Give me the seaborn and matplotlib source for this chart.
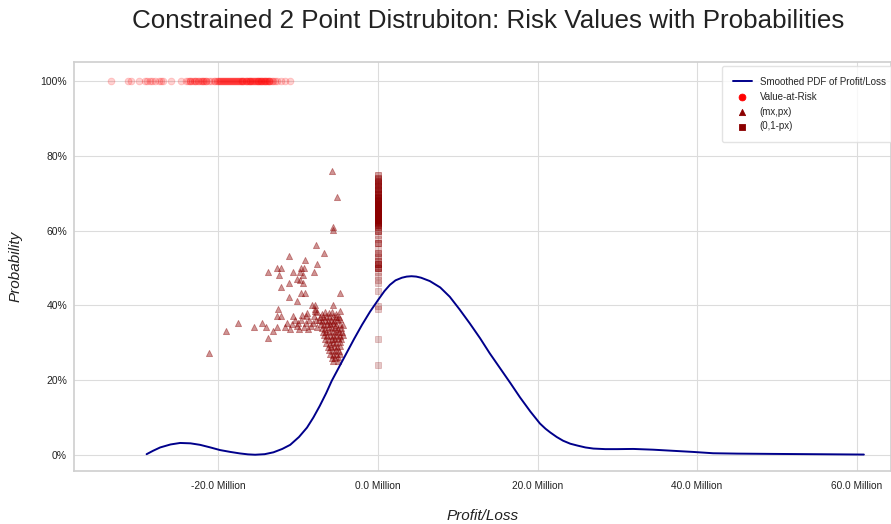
import numpy as np
import pandas as pd
import seaborn as sns
import matplotlib
matplotlib.use("Agg")
import matplotlib.pyplot as plt
from matplotlib.ticker import PercentFormatter, FuncFormatter, MultipleLocator

# ---------------- data (Profit/Loss in millions) ----------------
pdf_x = [-29.0, -28.2, -27.3, -26.0, -24.8, -23.5, -22.3, -21.0, -19.8, -18.5,
         -17.3, -16.3, -15.4, -14.2, -13.1, -12.0, -11.0, -9.9, -8.9, -8.1,
         -7.3, -6.5, -5.8, -5.0, -4.0, -3.0, -2.0, -1.0, 0.0, 0.8,
         1.5, 2.2, 3.0, 3.6, 4.2, 4.8, 5.4, 6.5, 7.8, 9.0, 10.2, 11.5,
         12.8, 14.0, 15.3, 16.6, 17.8, 19.1, 20.3, 21.0, 21.6, 22.4,
         23.2, 24.1, 25.0, 26.0, 27.0, 28.5, 30.0, 32.0, 34.5, 37.0,
         39.5, 42.0, 45.0, 49.6, 55.8, 60.9]
pdf_y = [0.002, 0.011, 0.020, 0.028, 0.032, 0.031, 0.027, 0.020, 0.013, 0.008,
         0.004, 0.0015, 0.0005, 0.002, 0.007, 0.016, 0.027, 0.048, 0.073, 0.100,
         0.131, 0.165, 0.198, 0.230, 0.270, 0.310, 0.348, 0.383, 0.414, 0.438,
         0.455, 0.467, 0.474, 0.477, 0.478, 0.477, 0.474, 0.465, 0.448, 0.423, 0.390, 0.352,
         0.312, 0.272, 0.232, 0.192, 0.154, 0.116, 0.084, 0.070, 0.060, 0.048,
         0.038, 0.030, 0.025, 0.020, 0.017, 0.0155, 0.0155, 0.016, 0.014, 0.011,
         0.008, 0.0045, 0.0035, 0.0027, 0.0018, 0.001]

var_x = [-33.4, -31.3, -31.0, -29.9, -29.2, -28.9, -28.6, -28.3, -28.0, -27.5,
         -27.2, -27.0, -26.0, -24.7, -24.0, -23.8, -23.6, -23.5, -23.3, -23.1,
         -22.9, -22.8, -22.6, -22.4, -22.2, -22.1, -21.9,
         -21.8, -21.6, -21.5, -21.2, -20.9, -20.6, -20.4, -20.2, -20.0, -19.9, -19.8,
         -19.7, -19.5, -19.4, -19.3, -19.2, -19.0, -18.9, -18.8, -18.7, -18.5,
         -18.4, -18.3, -18.2, -18.0, -17.9, -17.8, -17.7, -17.6, -17.4, -17.3,
         -17.2, -17.1, -17.0, -16.9, -16.8, -16.6, -16.5, -16.4, -16.3, -16.2,
         -16.1, -16.0, -15.9, -15.8, -15.7, -15.5, -15.4, -15.3, -15.2, -15.1,
         -15.0, -14.9, -14.8, -14.7, -14.6, -14.5, -14.4, -14.3, -14.2, -14.1,
         -14.0, -13.9, -13.8, -13.7, -13.6, -13.5, -13.3, -13.1, -12.9, -12.7,
         -12.1, -11.7, -11.0]
var_p = [1.0] * len(var_x)

mx = [-5.8, -5.1, -5.6, -5.6, -7.8, -6.8, -11.2, -9.1, -7.6, -12.6,
      -12.2, -9.6, -9.3, -13.8, -10.6, -8.0, -9.8, -12.4, -9.4, -10.2,
      -9.8, -11.2, -9.4, -12.2, -9.6, -9.1, -4.7, -11.2, -10.1, -8.3,
      -7.9, -5.6, -12.5, -7.9, -4.8,
      -21.2, -19.1, -17.6, -15.5, -14.5, -14.0, -13.8, -13.1, -12.7, -12.6,
      -12.1, -11.4, -10.7, -10.4, -11.6,
      -10.0, -9.6, -9.3, -9.0, -9.0, -8.6, -8.0, -8.2, -7.8, -7.7,
      -7.9, -7.6, -10.2, -9.9, -8.8, -8.4, -10.8, -11.0, -8.9, -9.5,
      -6.6, -6.2, -5.8, -7.0, -5.3,
      -7.3, -6.9, -6.5, -6.1, -5.7, -5.3, -4.9,
      -7.4, -7.0, -6.7, -6.3, -5.9, -5.5, -5.1, -4.7,
      -7.2, -6.8, -6.4, -6.0, -5.6, -5.2, -4.8, -4.4,
      -7.0, -6.6, -6.2, -5.8, -5.4, -5.0, -4.6,
      -6.9, -6.5, -6.1, -5.7, -5.3, -4.9, -4.5,
      -6.8, -6.4, -6.0, -5.6, -5.2, -4.8, -4.4,
      -6.7, -6.2, -5.8, -5.4, -5.0, -4.6,
      -6.5, -6.0, -5.6, -5.2, -4.8,
      -6.3, -5.9, -5.5, -5.1, -4.7,
      -6.1, -5.7, -5.3, -4.9,
      -6.0, -5.6, -5.2, -4.8,
      -5.8, -5.4, -5.0,
      -5.6, -5.0]
px = [0.760, 0.691, 0.610, 0.602, 0.561, 0.541, 0.532, 0.521, 0.511, 0.501,
      0.501, 0.501, 0.501, 0.490, 0.490, 0.490, 0.490, 0.481, 0.481, 0.471,
      0.468, 0.461, 0.461, 0.450, 0.432, 0.432, 0.432, 0.422, 0.411, 0.401,
      0.401, 0.401, 0.390, 0.390, 0.384,
      0.272, 0.332, 0.352, 0.341, 0.352, 0.341, 0.312, 0.332, 0.341, 0.372,
      0.372, 0.352, 0.372, 0.361, 0.341,
      0.352, 0.361, 0.341, 0.372, 0.352, 0.361, 0.372, 0.352, 0.361, 0.341,
      0.386, 0.382, 0.345, 0.336, 0.338, 0.346, 0.350, 0.338, 0.380, 0.375,
      0.382, 0.380, 0.383, 0.378, 0.376,
      0.370, 0.368, 0.371, 0.369, 0.372, 0.368, 0.370,
      0.360, 0.358, 0.362, 0.359, 0.361, 0.358, 0.360, 0.363,
      0.350, 0.348, 0.351, 0.349, 0.352, 0.348, 0.351, 0.347,
      0.340, 0.338, 0.342, 0.339, 0.341, 0.338, 0.340,
      0.330, 0.328, 0.331, 0.329, 0.332, 0.328, 0.330,
      0.320, 0.318, 0.321, 0.319, 0.322, 0.318, 0.321,
      0.310, 0.308, 0.311, 0.309, 0.312, 0.309,
      0.300, 0.298, 0.301, 0.299, 0.302,
      0.290, 0.288, 0.291, 0.289, 0.291,
      0.280, 0.278, 0.281, 0.279,
      0.270, 0.268, 0.271, 0.269,
      0.260, 0.258, 0.261,
      0.252, 0.250]
zero_x = [0.0] * len(px)
one_minus_px = [1.0 - p for p in px]

title = "Constrained 2 Point Distrubiton: Risk Values with Probabilities"

# ---------------- plotting ----------------
sns.set_theme(style="whitegrid")
plt.rcParams["font.family"] = ["Liberation Sans", "DejaVu Sans"]

fig = plt.figure(figsize=(8.91, 5.24), dpi=100)
ax = fig.add_axes([74 / 891, 53 / 524, 1 - 74 / 891, 409 / 524])

pdf_df = pd.DataFrame({"x": pdf_x, "y": pdf_y})
var_df = pd.DataFrame({"x": var_x, "y": var_p})
mp_df = pd.DataFrame({"x": mx, "y": px})
zp_df = pd.DataFrame({"x": zero_x, "y": one_minus_px})

sns.lineplot(data=pdf_df, x="x", y="y", ax=ax, color="#00008B", linewidth=1.4,
             label="Smoothed PDF of Profit/Loss", sort=True)
sns.scatterplot(data=var_df, x="x", y="y", ax=ax, color="red", marker="o",
                s=24, alpha=0.18, edgecolor="red", linewidth=0.6, label="Value-at-Risk")
sns.scatterplot(data=mp_df, x="x", y="y", ax=ax, color="#8B0000", marker="^",
                s=20, alpha=0.42, edgecolor="#8B0000", linewidth=0.6, label="(mx,px)")
sns.scatterplot(data=zp_df, x="x", y="y", ax=ax, color="#8B0000", marker="s",
                s=14, alpha=0.22, edgecolor="#8B0000", linewidth=0.6, label="(0,1-px)")

ax.set_xlim(-38.1, 64.3)
ax.set_ylim(-0.043, 1.051)
ax.set_xticks([-20, 0, 20, 40, 60])
ax.xaxis.set_major_formatter(FuncFormatter(lambda v, p: f"{v:.1f} Million"))
ax.yaxis.set_major_locator(MultipleLocator(0.2))
ax.yaxis.set_major_formatter(PercentFormatter(1.0, decimals=0))
ax.tick_params(axis="x", labelsize=7.3, length=0, pad=7, colors="#222222")
ax.tick_params(axis="y", labelsize=7.5, length=0, pad=5, colors="#222222")

ax.set_xlabel("Profit/Loss", fontsize=11, style="italic", labelpad=13, color="#222222")
ax.set_ylabel("Probability", fontsize=11, style="italic", labelpad=13, color="#222222")
for s in ax.spines.values():
    s.set_color("#d0d0d0")
ax.grid(color="#dcdcdc", linewidth=0.8)

fig.text(488 / 891, 1 - 21 / 524, title, ha="center", va="center",
         fontsize=18.7, color="#222222")

leg = ax.legend(loc="upper left", bbox_to_anchor=(0.793, 0.990), borderaxespad=0,
                fontsize=7, frameon=True, handlelength=2.0, borderpad=1.1,
                labelspacing=0.5, handletextpad=0.8)
leg.get_frame().set_edgecolor("#dddddd")
for h in leg.legend_handles:
    h.set_alpha(1)

fig.savefig("out.png", dpi=100)
